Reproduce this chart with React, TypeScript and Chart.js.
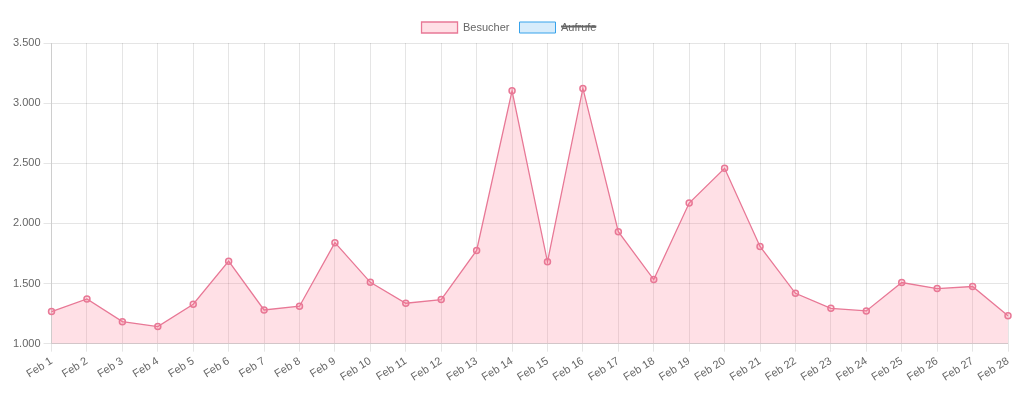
import React, { useEffect, useRef } from "react";
import { Chart, registerables } from "chart.js";

Chart.register(...registerables);

const categories: string[] = [
  "Feb 1", "Feb 2", "Feb 3", "Feb 4", "Feb 5", "Feb 6", "Feb 7", "Feb 8", "Feb 9", "Feb 10",
  "Feb 11", "Feb 12", "Feb 13", "Feb 14", "Feb 15", "Feb 16", "Feb 17", "Feb 18", "Feb 19", "Feb 20",
  "Feb 21", "Feb 22", "Feb 23", "Feb 24", "Feb 25", "Feb 26", "Feb 27", "Feb 28",
];

const besucherValues: number[] = [
  1267, 1372, 1183, 1142, 1328, 1686, 1280, 1311, 1840, 1510,
  1336, 1367, 1775, 3103, 1681, 3122, 1931, 1533, 2169, 2458,
  1808, 1419, 1294, 1272, 1508, 1458, 1475, 1233,
];

// Hidden series in the reference (struck through in the legend): no values visible.
const aufrufeValues: number[] = [];

const yMin = 1000;
const yMax = 3500;
const yStep = 500;

export default function App() {
  const ref = useRef<HTMLCanvasElement | null>(null);

  useEffect(() => {
    document.body.style.margin = "0";
    if (!ref.current) return;
    const chart = new Chart(ref.current, {
      type: "line",
      data: {
        labels: categories,
        datasets: [
          {
            label: "Besucher",
            data: besucherValues,
            borderColor: "rgb(232, 120, 150)",
            backgroundColor: "rgba(255, 99, 132, 0.2)",
            pointBackgroundColor: "rgba(255, 99, 132, 0.2)",
            pointBorderColor: "rgb(232, 120, 150)",
            borderWidth: 1.3,
            pointRadius: 3,
            pointBorderWidth: 1.5,
            fill: true,
            tension: 0,
          },
          {
            label: "Aufrufe",
            data: aufrufeValues,
            borderColor: "rgb(54, 162, 235)",
            backgroundColor: "rgba(54, 162, 235, 0.2)",
            borderWidth: 1,
            fill: true,
            hidden: true,
          },
        ],
      },
      options: {
        responsive: false,
        animation: false,
        locale: "de-DE",
        layout: { padding: { left: 10, right: 16, top: 12, bottom: 8 } },
        plugins: {
          legend: {
            position: "top",
            labels: { color: "#666", font: { size: 11 }, boxWidth: 36, boxHeight: 11 },
          },
          tooltip: { enabled: false },
        },
        scales: {
          x: {
            grid: { color: "rgba(0,0,0,0.1)", tickLength: 8 },
            ticks: { color: "#666", font: { size: 11 }, minRotation: 32, maxRotation: 32, autoSkip: false },
          },
          y: {
            min: yMin,
            max: yMax,
            grid: { color: "rgba(0,0,0,0.1)", tickLength: 8 },
            ticks: { color: "#666", font: { size: 11 }, stepSize: yStep },
          },
        },
      },
    });
    return () => chart.destroy();
  }, []);

  return (
    <div style={{ width: 1024, height: 395 }}>
      <canvas ref={ref} width={1024} height={395} />
    </div>
  );
}
